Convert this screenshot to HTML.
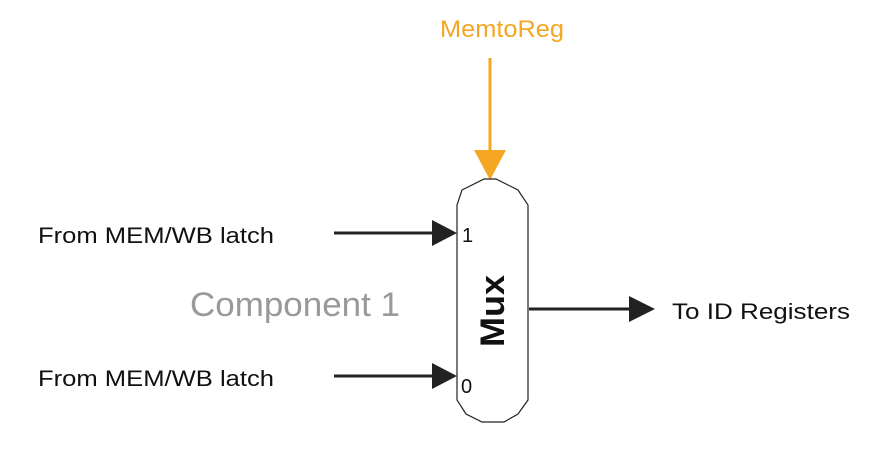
<!DOCTYPE html>
<html><head><style>html,body{margin:0;padding:0;background:#fff}</style></head>
<body>
<svg width="869" height="471" viewBox="0 0 869 471" xmlns="http://www.w3.org/2000/svg" font-family="Liberation Sans, Arial, sans-serif">
<rect width="869" height="471" fill="#fff"/>
<text x="440" y="37" font-size="24" fill="#f5a623" textLength="124" lengthAdjust="spacingAndGlyphs">MemtoReg</text>
<line x1="490" y1="58" x2="490" y2="155" stroke="#f5a623" stroke-width="3"/>
<polygon points="474,150 506,150 490,180" fill="#f5a623"/>
<path d="M484,179 L496,179 L518,190 L528,205 L528,400 L518,414 L504,422 L482,422 L466,414 L457,400 L457,205 L462,190 Z" fill="#fff" stroke="#222" stroke-width="1.2"/>
<text x="38" y="243" font-size="22" fill="#111" textLength="236" lengthAdjust="spacingAndGlyphs">From MEM/WB latch</text>
<text x="38" y="386" font-size="22" fill="#111" textLength="236" lengthAdjust="spacingAndGlyphs">From MEM/WB latch</text>
<text x="190" y="316" font-size="34" fill="#999" textLength="210" lengthAdjust="spacingAndGlyphs">Component 1</text>
<line x1="334" y1="233" x2="436" y2="233" stroke="#222" stroke-width="3"/>
<polygon points="432,220 457,233 432,246" fill="#222"/>
<line x1="334" y1="376" x2="436" y2="376" stroke="#222" stroke-width="3"/>
<polygon points="432,363 457,376 432,389" fill="#222"/>
<text x="462" y="242" font-size="20" fill="#111">1</text>
<text x="461" y="393" font-size="20" fill="#111">0</text>
<text transform="translate(504,311) rotate(-90)" text-anchor="middle" font-size="34" font-weight="bold" fill="#111" textLength="72" lengthAdjust="spacingAndGlyphs">Mux</text>
<line x1="529" y1="309" x2="633" y2="309" stroke="#222" stroke-width="3"/>
<polygon points="629,296 655,309 629,322" fill="#222"/>
<text x="672" y="319" font-size="22" fill="#111" textLength="178" lengthAdjust="spacingAndGlyphs">To ID Registers</text>
</svg>
</body></html>
